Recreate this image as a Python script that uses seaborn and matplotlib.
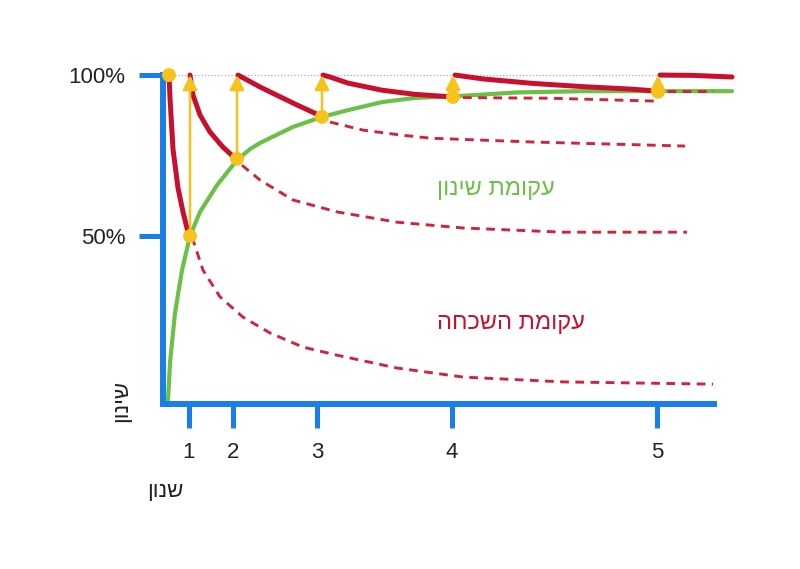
import numpy as np
import pandas as pd
import seaborn as sns
import matplotlib.pyplot as plt

# review moments (x) and memory level (%) at each review
review_x = [0.27, 0.74, 1.59, 2.90, 4.95]
review_y = [50, 74, 87, 93.2, 94.8]
tick_x = [0.26, 0.70, 1.54, 2.89, 4.94]
tick_labels = ['1', '2', '3', '4', '5']

# learning (retention) curve
green_x = [0.05, 0.07, 0.12, 0.19, 0.27, 0.37, 0.54, 0.74, 0.87, 0.97, 1.30, 1.59, 1.85, 2.19, 2.52, 2.91, 3.54, 4.20, 4.94, 5.69]
green_y = [-1, 10.6, 26.1, 39.4, 50, 57.5, 65.8, 73.6, 77.0, 78.9, 83.9, 87.0, 89.1, 91.6, 92.9, 93.4, 94.6, 95.0, 95.0, 95.0]

# forgetting curves, solid part (after each review)
red_solid = [
    ([0.06, 0.07, 0.10, 0.15, 0.20, 0.25, 0.27], [100, 92.9, 77.0, 64.9, 57.5, 51.2, 50]),
    ([0.27, 0.30, 0.37, 0.47, 0.60, 0.72, 0.74], [100, 93.8, 87.6, 82.3, 77.6, 74.2, 74.0]),
    ([0.75, 0.97, 1.30, 1.57, 1.59], [100, 96.3, 91.3, 87.4, 87.0]),
    ([1.60, 1.67, 1.85, 2.19, 2.52, 2.85, 2.90], [100, 99.4, 97.5, 95.3, 94.0, 93.3, 93.2]),
    ([2.92, 3.20, 3.70, 4.20, 4.70, 4.94], [100, 98.8, 97.4, 96.4, 95.6, 95.0]),
    ([4.97, 5.30, 5.69], [100, 99.9, 99.4]),
]
# forgetting curves, dashed part (without review)
red_dashed = [
    ([0.29, 0.40, 0.57, 0.80, 1.07, 1.40, 1.74, 2.34, 3.00, 4.00, 5.50], [49.7, 39.4, 31.1, 24.8, 19.9, 15.5, 13.0, 9.0, 6.2, 4.7, 4.0]),
    ([0.79, 0.97, 1.30, 1.74, 2.34, 3.00, 4.00, 5.24], [72.0, 67.4, 61.2, 57.5, 54.3, 52.5, 51.2, 51.2]),
    ([1.67, 2.00, 2.37, 2.67, 3.70, 5.22], [85.4, 82.9, 81.4, 80.4, 79.2, 77.95]),
    ([3.00, 3.87, 4.94], [93.0, 92.8, 91.9]),
    ([5.04, 5.50], [95.0, 95.0]),
]

blue = '#1a7ee9'
red = '#c8102e'
green = '#6cbf47'
yellow = '#f6c21c'
fonts = ['Liberation Sans', 'DejaVu Sans']

def rtl(s):
    return s[::-1]

sns.set_style('white')
plt.rcParams['font.family'] = fonts

fig = plt.figure(figsize=(8, 5.69), dpi=100)
ax = fig.add_axes([0.20375, 0.2898, 0.71875, 0.5896])
ymin = -2.2

# 100% guide line
ax.plot([0.05, 5.69], [100, 100], color='#aaaaaa', lw=0.9, ls=':', zorder=1)

sns.lineplot(x=green_x, y=green_y, color=green, lw=3, ax=ax, zorder=2)
for xs, ys in red_dashed:
    sns.lineplot(x=xs, y=ys, color='#d0243c', lw=2.1, linestyle=(0, (3, 2.2)), ax=ax, zorder=3)
for xs, ys in red_solid:
    sns.lineplot(x=xs, y=ys, color=red, lw=3.6, ax=ax, zorder=4, solid_capstyle='round',
                 solid_joinstyle='round')

# review arrows
for x, y in zip(review_x, review_y):
    ax.annotate('', xy=(x, 100), xytext=(x, y),
                arrowprops=dict(arrowstyle='-|>', color=yellow, lw=1.8,
                                mutation_scale=22, shrinkA=0, shrinkB=0),
                zorder=5)

sns.scatterplot(x=[0.06] + review_x, y=[100] + review_y, color=yellow, s=100,
                edgecolor='none', ax=ax, zorder=6, clip_on=False)

ax.set_xlim(0, 5.75)
ax.set_ylim(ymin, 102)

for s in ['top', 'right']:
    ax.spines[s].set_visible(False)
for s in ['left', 'bottom']:
    ax.spines[s].set_color(blue)
    ax.spines[s].set_linewidth(4.3)
    ax.spines[s].set_capstyle('projecting')
ax.spines['left'].set_bounds(ymin, 100)
ax.spines['bottom'].set_bounds(0, 5.51)

ax.set_yticks([50, 100])
ax.set_yticklabels(['50%', '100%'])
ax.set_xticks(tick_x)
ax.set_xticklabels(tick_labels)
ax.tick_params(axis='both', direction='out', length=17.5, width=3.6, color=blue,
               labelsize=16, labelcolor='#222222', pad=9.5, bottom=True, left=True)

ax.text(2.74, 64.6, rtl('עקומת שינון'), color=green, fontsize=17, ha='left', va='center')
ax.text(2.74, 23.0, rtl('עקומת השכחה'), color=red, fontsize=17, ha='left', va='center')

ax.text(0.02, -29.2, rtl('שנון'), color='#222222', fontsize=16, ha='center', va='center', clip_on=False)
ax.text(-0.41, -1.2, rtl('שינון'), color='#222222', fontsize=16, rotation=90,
        ha='center', va='center', clip_on=False)

ax.set_xlabel('')
ax.set_ylabel('')
plt.savefig('out.png', dpi=100)
